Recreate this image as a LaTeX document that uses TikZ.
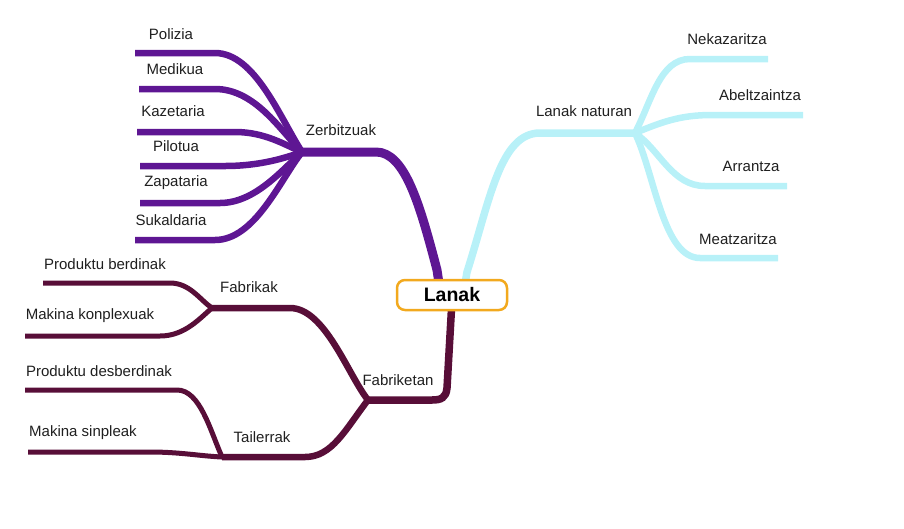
\documentclass[tikz,border=0pt]{standalone}
\usepackage{fontspec}
\setmainfont{Liberation Sans}
\begin{document}
\begin{tikzpicture}[x=1pt,y=-1pt,
  lbl/.style={text=black!88, font=\fontsize{15}{17}\selectfont, inner sep=0pt},
  zerb/.style={draw=purpleC, line width=6.5pt},
  zerbmain/.style={draw=purpleC, line width=9pt},
  natur/.style={draw=cyanC, line width=6.5pt},
  naturmain/.style={draw=cyanC, line width=7.5pt},
  fab/.style={draw=maroonC, line width=5pt},
  fabsub/.style={draw=maroonC, line width=6.5pt},
  fabmain/.style={draw=maroonC, line width=7.5pt},
  central/.style={draw=orangeC, line width=2.5pt, fill=white, rounded corners=8pt,
    minimum width=110pt, minimum height=30pt, font=\fontsize{19.5}{22}\selectfont\bfseries, text=black}
]
\definecolor{purpleC}{HTML}{5E1693}
\definecolor{cyanC}{HTML}{B8F1F8}
\definecolor{maroonC}{HTML}{580E38}
\definecolor{orangeC}{HTML}{F2A91E}
\useasboundingbox (0,0) rectangle (904,528);

% coordinates
\coordinate (cZ) at (440,290);
\coordinate (cN) at (464,290);
\coordinate (cF) at (452,300);
\coordinate (zJ) at (302,152);
\coordinate (nJ) at (635,133);
\coordinate (fJ) at (368,400);
\coordinate (fbJ) at (212,308);
\coordinate (tJ) at (222,457);

\coordinate (polE) at (135,53);
\coordinate (medE) at (139,89);
\coordinate (kazE) at (137,132);
\coordinate (pilE) at (140,166);
\coordinate (zapE) at (140,203);
\coordinate (sukE) at (135,240);

\coordinate (nekE) at (768,59);
\coordinate (abeE) at (803,115);
\coordinate (arrE) at (787,186);
\coordinate (meaE) at (778,258);

\coordinate (pbE) at (43,283);
\coordinate (mkE) at (25,336);
\coordinate (pdE) at (25,390);
\coordinate (msE) at (28,452);

% Zerbitzuak branch
\draw[zerbmain] (cZ) -- (437,270) .. controls (420,205) and (405,152) .. (376,152) -- (zJ);
\draw[zerb] (polE) -- (215,53) .. controls (255,53) and (280,118) .. (zJ);
\draw[zerb] (medE) -- (215,89) .. controls (255,89) and (280,130) .. (zJ);
\draw[zerb] (kazE) -- (235,132) .. controls (265,132) and (285,145) .. (zJ);
\draw[zerb] (pilE) -- (225,166) .. controls (260,166) and (285,158) .. (zJ);
\draw[zerb] (zapE) -- (220,203) .. controls (255,203) and (282,170) .. (zJ);
\draw[zerb] (sukE) -- (215,240) .. controls (255,240) and (280,180) .. (zJ);

% Lanak naturan branch
\draw[naturmain] (cN) -- (467,272) .. controls (490,200) and (500,133) .. (540,133) -- (nJ);
\draw[natur] (nJ) .. controls (652,100) and (660,59) .. (690,59) -- (nekE);
\draw[natur] (nJ) .. controls (662,122) and (680,115) .. (712,115) -- (abeE);
\draw[natur] (nJ) .. controls (660,150) and (672,186) .. (705,186) -- (arrE);
\draw[natur] (nJ) .. controls (655,175) and (663,258) .. (700,258) -- (meaE);

% Fabriketan branch
\draw[fabmain] (cF) -- (447,388) .. controls (446,398) and (441,400) .. (432,400) -- (fJ);
\draw[fabsub] (fJ) .. controls (348,375) and (325,308) .. (290,308) -- (fbJ);
\draw[fabsub] (fJ) .. controls (345,430) and (332,457) .. (305,457) -- (tJ);
\draw[fab] (pbE) -- (170,283) .. controls (190,283) and (200,300) .. (fbJ);
\draw[fab] (mkE) -- (160,336) .. controls (185,336) and (200,318) .. (fbJ);
\draw[fab] (pdE) -- (177,390) .. controls (200,390) and (210,430) .. (tJ);
\draw[fab] (msE) -- (150,452) .. controls (180,452) and (200,456) .. (tJ);

% central node
\node[central] (lanak) at (452,295) {Lanak};

% labels
\node[lbl] (zerbL) at (341,130) {Zerbitzuak};
\node[lbl] (polL) at (171,34) {Polizia};
\node[lbl] (medL) at (175,69) {Medikua};
\node[lbl] (kazL) at (173,111) {Kazetaria};
\node[lbl] (pilL) at (176,146) {Pilotua};
\node[lbl] (zapL) at (176,183) {Zapataria};
\node[lbl] (sukL) at (171,220) {Sukaldaria};

\node[lbl] (natL) at (584,111) {Lanak naturan};
\node[lbl] (nekL) at (727,39) {Nekazaritza};
\node[lbl] (abeL) at (760,95) {Abeltzaintza};
\node[lbl] (arrL) at (751,166) {Arrantza};
\node[lbl] (meaL) at (738,239) {Meatzaritza};

\node[lbl] (fabL) at (398,380) {Fabriketan};
\node[lbl] (fbkL) at (249,287) {Fabrikak};
\node[lbl] (taiL) at (262,437) {Tailerrak};
\node[lbl] (pbL) at (105,264) {Produktu berdinak};
\node[lbl] (mkL) at (90,316) {Makina konplexuak};
\node[lbl] (pdL) at (99,371) {Produktu desberdinak};
\node[lbl] (msL) at (83,433) {Makina sinpleak};
\end{tikzpicture}
\end{document}
